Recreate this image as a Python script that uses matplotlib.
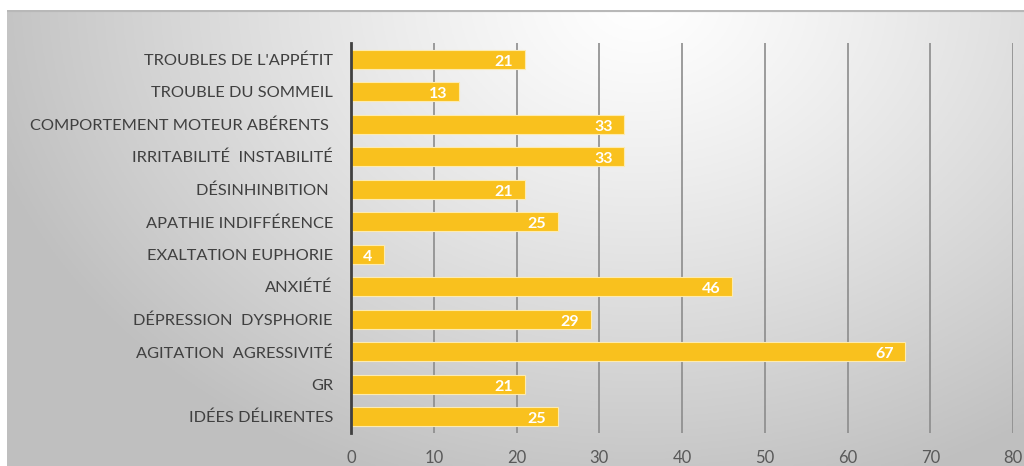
import numpy as np
import matplotlib
matplotlib.use("Agg")
import matplotlib.pyplot as plt

categories = ["IDÉES DÉLIRENTES", "GR", "AGITATION  AGRESSIVITÉ", "DÉPRESSION  DYSPHORIE",
              "ANXIÉTÉ", "EXALTATION EUPHORIE", "APATHIE INDIFFÉRENCE", "DÉSINHINBITION ",
              "IRRITABILITÉ  INSTABILITÉ", "COMPORTEMENT MOTEUR ABÉRENTS ", "TROUBLE DU SOMMEIL",
              "TROUBLES DE L'APPÉTIT"]
values = [25, 21, 67, 29, 46, 4, 25, 21, 33, 33, 13, 21]
xticks = [0, 10, 20, 30, 40, 50, 60, 70, 80]

plt.rcParams['font.family'] = ['Lato', 'DejaVu Sans']

W, H = 1024, 466
fig = plt.figure(figsize=(W/100, H/100), dpi=100)
fig.patch.set_facecolor('white')

# background panel with radial gradient
bg = fig.add_axes([7/W, 0, 1 - 7/W, 1 - 10/H], zorder=0)
nx, ny = 400, 200
xx, yy = np.meshgrid(np.linspace(7, 1024, nx), np.linspace(10, 466, ny))
d = np.sqrt(((xx - 640) / 680) ** 2 + ((yy - 0) / 520) ** 2)
d = np.clip(d, 0, 1)
g = 1.0 - 0.25 * d ** 1.2
img = np.dstack([g, g, g])
bg.imshow(img, aspect='auto', extent=[0, 1, 0, 1], origin='upper')
bg.axhline(1, color='#b8b8b8', lw=3)
bg.set_axis_off()

x0, x1 = 351, 1013
ax = fig.add_axes([x0/W, (H-433)/H, (x1-x0)/W, (433-43)/H], zorder=1)
ax.patch.set_alpha(0)
ypos = np.arange(len(categories))
ax.barh(ypos, values, height=0.58, color='#F9C11E', edgecolor='#FDEBB0', linewidth=0.8, zorder=3)
for y, v in zip(ypos, values):
    ax.text(v - 1.4, y - 0.08, str(v), ha='right', va='center', color='white',
            fontsize=11.5, fontweight='bold', zorder=4)
ax.set_xlim(0, 80)
ax.set_ylim(-0.5, len(categories) - 0.5)
ax.set_xticks(xticks)
ax.set_xticklabels([str(t) for t in xticks], fontsize=12, color='#595959')
ax.set_yticks(ypos)
ax.set_yticklabels(categories, fontsize=11.8, color='#404040')
ax.tick_params(axis='both', length=0)
ax.tick_params(axis='x', pad=12)
ax.tick_params(axis='y', pad=13)
ax.grid(axis='x', color='#8c8c8c', lw=1.2, zorder=0)
for s in ['top', 'right', 'bottom']:
    ax.spines[s].set_visible(False)
ax.spines['left'].set_color('#404040')
ax.spines['left'].set_linewidth(2)
ax.spines['left'].set_zorder(5)

fig.savefig('out.png', dpi=100)
